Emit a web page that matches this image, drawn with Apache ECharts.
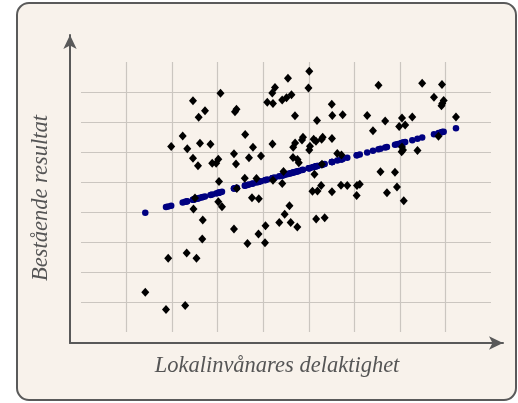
<!DOCTYPE html>
<html>
<head>
<meta charset="utf-8">
<script src="https://cdn.jsdelivr.net/npm/echarts@6/dist/echarts.min.js"></script>
<style>
html,body{margin:0;padding:0;background:#ffffff;}
#chart{width:518px;height:403px;}
</style>
</head>
<body>
<div id="chart"></div>
<script>
// Observed x (Lokalinvånares delaktighet), in grid-cell units
var obsX = [1.411,1.866,1.914,1.98,2.232,2.287,2.32,2.333,2.458,2.458,2.469,2.502,2.535,2.568,2.583,2.612,2.662,2.673,2.722,2.842,2.88,2.967,3.014,3.014,3.029,3.062,3.095,3.358,3.358,3.38,3.402,3.413,3.42,3.595,3.604,3.654,3.687,3.753,3.775,3.852,3.896,3.903,3.951,4.039,4.05,4.089,4.199,4.203,4.214,4.214,4.258,4.352,4.416,4.418,4.445,4.471,4.511,4.543,4.576,4.603,4.62,4.653,4.658,4.697,4.70,4.748,4.752,4.781,4.851,4.873,4.993,5.011,5.011,5.026,5.081,5.107,5.125,5.158,5.162,5.18,5.191,5.272,5.283,5.29,5.305,5.349,5.505,5.509,5.509,5.516,5.626,5.707,5.718,5.744,5.845,6.051,6.058,6.119,6.282,6.409,6.53,6.574,6.677,6.716,6.892,6.936,6.984,7.039,7.046,7.046,7.068,7.085,7.116,7.272,7.386,7.489,7.748,7.847,7.913,7.924,7.93,7.961,8.231];
// Observed y (Bestående resultat)
var obsY = [1.323,0.75,2.46,6.183,6.533,0.883,2.633,6.11,7.71,5.79,4.10,4.467,2.46,5.543,7.16,6.29,3.10,3.733,7.377,6.26,5.623,5.623,4.34,5.757,5.017,7.957,4.173,3.433,5.943,7.343,5.60,7.423,4.783,5.123,6.583,2.95,5.81,4.477,6.157,5.117,3.267,4.44,5.867,2.977,3.543,7.657,7.967,6.267,5.057,7.617,8.15,3.65,7.733,4.95,5.35,3.923,7.81,8.457,4.21,3.65,7.91,5.817,6.157,7.21,6.30,3.50,5.75,5.643,6.40,6.49,8.133,8.693,6.067,6.19,4.69,6.423,5.26,6.357,3.767,7.05,4.70,4.883,6.423,5.593,6.49,3.81,7.59,4.677,6.45,7.217,5.95,4.89,5.90,7.243,4.883,4.55,4.883,4.927,7.217,6.71,8.223,5.343,7.033,4.64,5.323,4.833,6.85,6.01,6.167,7.133,6.067,4.373,6.90,7.167,6.05,8.29,7.823,6.527,7.54,8.25,7.617,7.717,7.167];
// Fitted values (blue dots), one per observation
var fitY = [3.977,4.165,4.184,4.212,4.316,4.338,4.352,4.357,4.409,4.409,4.413,4.427,4.441,4.454,4.46,4.472,4.493,4.498,4.518,4.567,4.583,4.619,4.638,4.638,4.644,4.658,4.672,4.78,4.78,4.789,4.798,4.803,4.806,4.878,4.882,4.902,4.916,4.943,4.952,4.984,5.002,5.005,5.025,5.061,5.066,5.082,5.127,5.129,5.133,5.133,5.151,5.19,5.217,5.218,5.229,5.239,5.256,5.269,5.283,5.294,5.301,5.314,5.316,5.332,5.333,5.354,5.355,5.367,5.396,5.405,5.455,5.462,5.462,5.468,5.491,5.502,5.509,5.523,5.524,5.532,5.536,5.57,5.574,5.577,5.583,5.601,5.666,5.667,5.667,5.67,5.716,5.749,5.754,5.764,5.806,5.891,5.894,5.919,5.986,6.039,6.089,6.107,6.149,6.165,6.238,6.256,6.276,6.299,6.302,6.302,6.311,6.318,6.33,6.395,6.442,6.484,6.591,6.632,6.659,6.664,6.666,6.679,6.79];

var xTitle = 'Lokalinvånares delaktighet';
var yTitle = 'Bestående resultat';

var obsData = obsX.map(function(x,i){return [x, obsY[i]];});
var fitData = obsX.map(function(x,i){return [x, fitY[i]];});

var chart = echarts.init(document.getElementById('chart'), null, {renderer:'canvas'});
var FONT = '"Liberation Serif", "DejaVu Serif", serif';
var option = {
  animation: false,
  backgroundColor: 'transparent',
  graphic: [
    {type:'rect', z:-10, shape:{x:17, y:3, width:499, height:397, r:12},
     style:{fill:'#f8f2eb', stroke:'#5a5a5a', lineWidth:2}},
    {type:'text', x:277, y:366, style:{text:xTitle, fill:'#555', font:'italic 22.5px ' + FONT, align:'center', verticalAlign:'middle'}},
    {type:'text', x:41, y:198, rotation:Math.PI/2, style:{text:yTitle, fill:'#555', font:'italic 22.5px ' + FONT, align:'center', verticalAlign:'middle'}}
  ],
  grid: [
    {left:81, top:62, right:27, bottom:71},
    {left:70, top:35, right:15, bottom:60}
  ],
  xAxis: [
    {gridIndex:0, type:'value', min:0, max:9, interval:1,
     axisLine:{show:false}, axisTick:{show:false}, axisLabel:{show:false},
     splitLine:{show:true, showMinLine:false, showMaxLine:false, lineStyle:{color:'#cbc6c0', width:1.2}}},
    {gridIndex:1, type:'value', min:0, max:1,
     axisLine:{show:true, symbol:['none','arrow'], symbolSize:[10,14], lineStyle:{color:'#595959', width:2}},
     axisTick:{show:false}, axisLabel:{show:false}, splitLine:{show:false}}
  ],
  yAxis: [
    {gridIndex:0, type:'value', min:0, max:9, interval:1,
     axisLine:{show:false}, axisTick:{show:false}, axisLabel:{show:false},
     splitLine:{show:true, showMinLine:false, showMaxLine:false, lineStyle:{color:'#cbc6c0', width:1.2}}},
    {gridIndex:1, type:'value', min:0, max:1,
     axisLine:{show:true, symbol:['none','arrow'], symbolSize:[10,14], lineStyle:{color:'#595959', width:2}},
     axisTick:{show:false}, axisLabel:{show:false}, splitLine:{show:false}}
  ],
  series: [
    {type:'scatter', xAxisIndex:0, yAxisIndex:0, data:fitData, symbol:'circle', symbolSize:6.5,
     itemStyle:{color:'#000080', opacity:1}, z:2},
    {type:'scatter', xAxisIndex:0, yAxisIndex:0, data:obsData, symbol:'diamond', symbolSize:[8,9],
     itemStyle:{color:'#000000', opacity:1}, z:3}
  ]
};
chart.setOption(option);
</script>
</body>
</html>
